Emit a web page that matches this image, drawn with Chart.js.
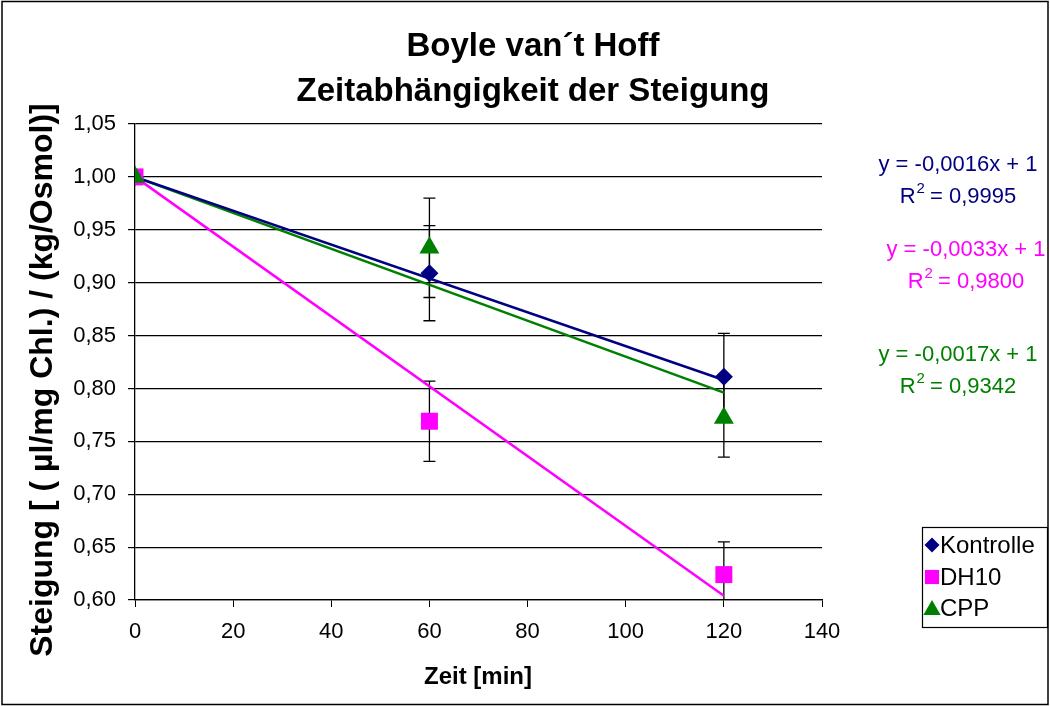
<!DOCTYPE html>
<html>
<head>
<meta charset="utf-8">
<script src="https://cdn.jsdelivr.net/npm/chart.js@4/dist/chart.umd.min.js"></script>
<style>
  html, body { margin: 0; padding: 0; background: #fff; }
  #wrap { width: 1050px; height: 706px; position: relative; }
</style>
</head>
<body>
<div id="wrap"><canvas id="chart" width="1050" height="706"></canvas></div>
<script>
// Messzeitpunkte [min]
const times = [0, 60, 120]

// Mittelwerte der Steigung
const kontrolle = [1.00, 0.909, 0.811]
const dh10      = [1.00, 0.769, 0.624]
const cpp       = [1.00, 0.933, 0.772]

// Fehlerbalken (±)
const kontrolleErr = [0, 0.045, 0.041]
const dh10Err      = [0, 0.038, 0.031]
const cppErr       = [0, 0.047, 0.037]

// lineare Trendlinien (Endpunkte bei 0 und 120 min)
const trendX = [0, 120]
const kontrolleTrend = [1.00, 0.808]
const dh10Trend      = [1.00, 0.604]
const cppTrend       = [1.00, 0.796]

const equations = [
  ["y = -0,0016x + 1", "0,9995"],
  ["y = -0,0033x + 1", "0,9800"],
  ["y = -0,0017x + 1", "0,9342"]
]

const seriesNames = ["Kontrolle", "DH10", "CPP"]
const colors = ["#000080", "#FF00FF", "#008000"]

const FONT = "Arial, 'Liberation Sans', sans-serif"

const pts = (xs, ys) => xs.map((x, i) => ({ x, y: ys[i] }))

const pointDs = (i, ys, err, style, radius, order) => ({
  label: seriesNames[i],
  data: pts(times, ys),
  err,
  backgroundColor: colors[i],
  borderColor: colors[i],
  pointStyle: style,
  pointRadius: radius,
  pointHoverRadius: radius,
  borderWidth: 0,
  showLine: false,
  order
})

const trendDs = (i, ys) => ({
  label: seriesNames[i] + " Trend",
  data: pts(trendX, ys),
  trend: true,
  borderColor: colors[i],
  borderWidth: 2.5,
  pointRadius: 0,
  showLine: true,
  order: 10
})

const errorBars = {
  id: "errorBars",
  beforeDatasetsDraw(chart) {
    const { ctx, scales: { x, y } } = chart
    ctx.save()
    ctx.strokeStyle = "#000"
    ctx.lineWidth = 1.3
    ctx.beginPath()
    ctx.rect(chart.chartArea.left, chart.chartArea.top - 10, chart.chartArea.width, chart.chartArea.height + 10)
    ctx.clip()
    chart.data.datasets.forEach(ds => {
      if (!ds.err) return
      ds.data.forEach((p, i) => {
        const e = ds.err[i]
        if (!e) return
        const px = x.getPixelForValue(p.x)
        const top = y.getPixelForValue(p.y + e)
        const bot = y.getPixelForValue(p.y - e)
        ctx.beginPath()
        ctx.moveTo(px, top); ctx.lineTo(px, bot)
        ctx.moveTo(px - 6, top); ctx.lineTo(px + 6, top)
        ctx.moveTo(px - 6, bot); ctx.lineTo(px + 6, bot)
        ctx.stroke()
      })
    })
    ctx.restore()
  }
}

const decorations = {
  id: "decorations",
  afterDraw(chart) {
    const { ctx } = chart
    ctx.save()
    // Rahmen
    ctx.strokeStyle = "#000"
    ctx.lineWidth = 1.5
    ctx.strokeRect(2, 1.5, 1046, 703)

    // Titel
    ctx.fillStyle = "#000"
    ctx.textAlign = "center"
    ctx.textBaseline = "middle"
    ctx.font = "bold 33px " + FONT
    ctx.fillText("Boyle van´t Hoff", 533, 47)
    ctx.fillText("Zeitabhängigkeit der Steigung", 533, 92)

    // Achsentitel
    ctx.font = "bold 24px " + FONT
    ctx.fillText("Zeit [min]", 478, 677)
    ctx.save()
    ctx.translate(43, 380)
    ctx.rotate(-Math.PI / 2)
    ctx.font = "bold 32px " + FONT
    ctx.fillText("Steigung [ ( µl/mg Chl.) / (kg/Osmol)]", 0, 0)
    ctx.restore()

    // Gleichungen
    const eqY = [165, 250, 355]
    const eqX = [958, 966, 958]
    equations.forEach(([eq, r2], i) => {
      ctx.fillStyle = colors[i]
      ctx.textAlign = "center"
      ctx.font = "22px " + FONT
      ctx.fillText(eq, eqX[i], eqY[i])
      const yy = eqY[i] + 32
      const w1 = ctx.measureText("R").width
      const rest = " = " + r2
      const w3 = ctx.measureText(rest).width
      ctx.font = "15px " + FONT
      const w2 = ctx.measureText("2").width
      const sx = eqX[i] - (w1 + w2 + w3) / 2
      ctx.textAlign = "left"
      ctx.font = "22px " + FONT
      ctx.fillText("R", sx, yy)
      ctx.font = "15px " + FONT
      ctx.fillText("2", sx + w1 + 1, yy - 8)
      ctx.font = "22px " + FONT
      ctx.fillText(rest, sx + w1 + w2, yy)
    })

    // Legende
    ctx.fillStyle = "#fff"
    ctx.fillRect(922, 527, 125, 100)
    ctx.strokeStyle = "#000"
    ctx.lineWidth = 1.2
    ctx.strokeRect(922.5, 527.5, 125, 100)
    const legY = [545, 577, 608]
    chart.data.datasets.filter(ds => !ds.trend).forEach((ds, i) => {
      ctx.fillStyle = ds.backgroundColor
      ctx.strokeStyle = ds.backgroundColor
      const r = ds.pointStyle === "triangle" ? 10 : ds.pointStyle === "rect" ? 10 : 7.5
      Chart.helpers.drawPoint(ctx, { pointStyle: ds.pointStyle, radius: r, borderWidth: 0 }, 932, legY[i] + (ds.pointStyle === "triangle" ? 2 : 0))
      ctx.fillStyle = "#000"
      ctx.textAlign = "left"
      ctx.font = "24px " + FONT
      ctx.fillText(ds.label, 940, legY[i] + 1)
    })
    ctx.restore()
  }
}

new Chart(document.getElementById("chart"), {
  type: "scatter",
  data: {
    datasets: [
      pointDs(0, kontrolle, kontrolleErr, "rectRot", 9, 3),
      pointDs(1, dh10, dh10Err, "rect", 12, 2),
      pointDs(2, cpp, cppErr, "triangle", 11.5, 1),
      trendDs(0, kontrolleTrend),
      trendDs(1, dh10Trend),
      trendDs(2, cppTrend)
    ]
  },
  options: {
    responsive: false,
    animation: false,
    layout: { padding: { left: 0, top: 124, right: 228, bottom: 0 } },
    plugins: { legend: { display: false }, tooltip: { enabled: false } },
    scales: {
      x: {
        type: "linear",
        min: 0, max: 140,
        afterFit: s => { s.height = 106 },
        ticks: { stepSize: 20, color: "#000", font: { family: FONT, size: 22 }, padding: 12 },
        grid: { drawOnChartArea: false, drawTicks: true, tickLength: 7, color: "#000" },
        border: { color: "#000", width: 1.3 }
      },
      y: {
        min: 0.6, max: 1.05,
        afterFit: s => { s.width = 135 },
        ticks: {
          stepSize: 0.05, color: "#000", font: { family: FONT, size: 22 }, padding: 12,
          callback: v => v.toFixed(2).replace(".", ",")
        },
        grid: { color: "#000", lineWidth: 1.2, tickLength: 7 },
        border: { color: "#000", width: 1.3 }
      }
    }
  },
  plugins: [errorBars, decorations]
})
</script>
</body>
</html>
